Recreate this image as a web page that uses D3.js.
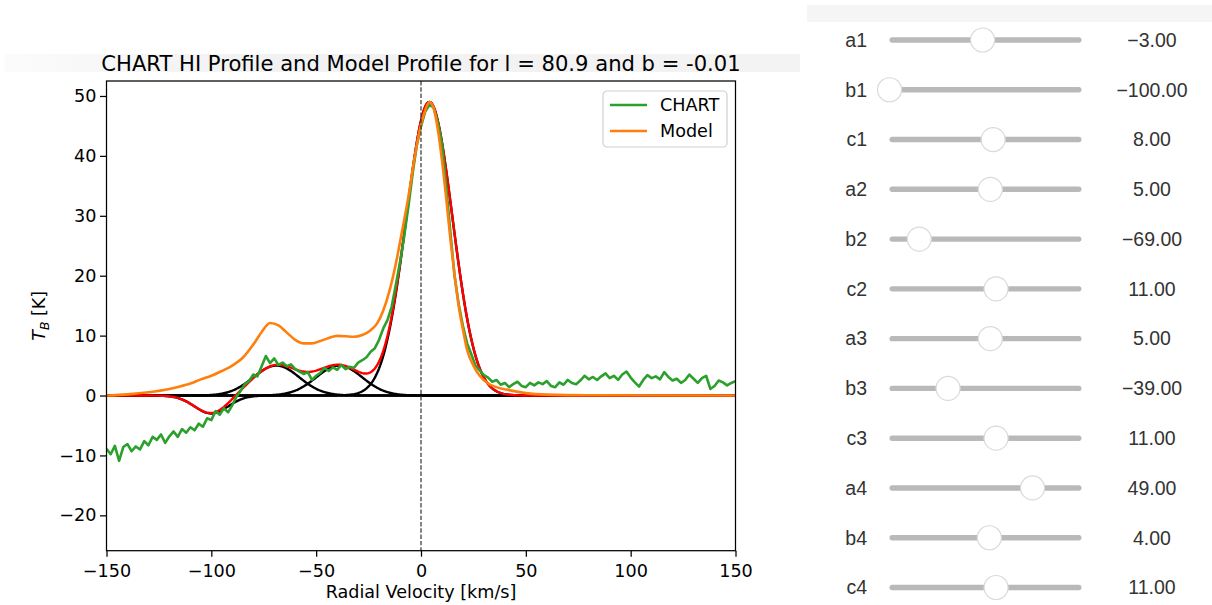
<!DOCTYPE html>
<html>
<head>
<meta charset="utf-8">
<script src="https://cdn.jsdelivr.net/npm/d3@7"></script>
<style>
  body { margin: 0; background: #fff; }
  svg { display: block; }
</style>
</head>
<body>
<svg id="chart" width="1212" height="605"></svg>
<script>
// Gaussian components from the sliders: a = amplitude, b = centre, c = width
const paramNames  = ["a1", "b1", "c1", "a2", "b2", "c2", "a3", "b3", "c3", "a4", "b4", "c4"];
const paramValues = [-3, -100, 8, 5, -69, 11, 5, -39, 11, 49, 4, 11];

// CHART HI profile, one value every 2 km/s from -150 to 150
const chartStart = -150;
const chartStep = 2;
const chartT = [
  -8.9, -9.8, -8.4, -10.9, -8.6, -8.1, -9.3, -8.5, -9.0, -7.6,
  -8.3, -6.9, -7.4, -6.5, -7.9, -6.8, -6.0, -6.9, -5.6, -6.2,
  -5.3, -5.8, -4.7, -5.2, -3.8, -4.1, -2.6, -3.2, -2.1, -2.8,
  -1.6, -0.2, 0.8, 1.9, 2.4, 3.5, 3.2, 4.9, 6.6, 5.4,
  6.2, 5.1, 5.5, 4.9, 5.2, 4.4, 4.0, 3.6, 3.9, 2.6,
  3.3, 3.8, 4.6, 4.1, 4.7, 4.3, 5.1, 4.4, 4.8, 4.6,
  5.5, 5.9, 6.4, 7.3, 7.9, 9.3, 11.2, 12.6, 14.8, 18.5,
  22.3, 26.6, 31.6, 37.0, 41.8, 44.9, 47.4, 48.5, 48.1, 45.6,
  42.0, 35.0, 27.3, 20.0, 15.2, 11.6, 8.7, 6.9, 5.0, 4.2,
  3.4, 3.0, 2.3, 2.6, 1.8, 2.1, 1.4, 1.9, 2.3, 1.6,
  1.4, 2.1, 1.7, 2.2, 1.9, 2.4, 1.6, 1.4, 2.2, 1.8,
  2.6, 2.1, 1.9, 2.5, 3.3, 2.7, 3.1, 2.6, 3.2, 3.7,
  2.9, 3.3, 2.6, 3.5, 4.0, 3.0, 2.2, 1.5, 2.6, 3.4,
  2.9, 3.2, 2.7, 3.9, 3.1, 2.5, 2.8, 2.1, 2.6, 3.5,
  2.8, 2.1, 2.9, 3.3, 1.1, 1.6, 2.5, 2.2, 1.7, 2.1,
  2.4
];

// model profile (smooth)
const modelV = [-150, -140, -130, -120, -115, -110, -105, -100, -95, -90,
  -85, -80, -76, -72, -68, -64, -60, -56, -52, -48,
  -44, -40, -36, -32, -28, -24, -21, -18, -15, -12,
  -9, -6, -3, 0, 2, 4, 6, 8, 10, 12,
  14, 16, 18, 20, 22, 25, 28, 32, 36, 42,
  50, 60, 80, 150];
const modelT = [0.0, 0.2, 0.55, 1.1, 1.5, 2.0, 2.7, 3.3, 4.1, 5.0,
  6.3, 8.5, 10.6, 12.1, 11.7, 10.5, 9.3, 8.7, 8.7, 9.1,
  9.6, 9.95, 9.9, 9.8, 10.1, 10.9, 12.0, 14.2, 17.5, 22.0,
  27.5, 33.2, 39.8, 45.2, 47.6, 49.0, 48.0, 44.5, 39.3, 33.0,
  26.2, 20.1, 14.9, 11.0, 7.6, 5.0, 3.3, 2.0, 1.4, 0.9,
  0.4, 0.15, 0.05, 0.0];

const xTicks = [-150, -100, -50, 0, 50, 100, 150];
const yTicks = [-20, -10, 0, 10, 20, 30, 40, 50];
const seriesNames = ["CHART", "Model"];
const seriesColors = ["#2ca02c", "#ff7f0e"];

const svg = d3.select("#chart");
const mplFont = "'DejaVu Sans', sans-serif";
const widgetFont = "'Liberation Sans', Arial, sans-serif";

// faint output-area bands
const defs = svg.append("defs");
const band = defs.append("linearGradient").attr("id", "band");
band.append("stop").attr("offset", "0").attr("stop-color", "#fbfbfb");
band.append("stop").attr("offset", "0.3").attr("stop-color", "#f2f2f2");
band.append("stop").attr("offset", "1").attr("stop-color", "#f3f3f3");
svg.append("rect").attr("x", 5).attr("y", 54).attr("width", 795).attr("height", 18).attr("fill", "url(#band)");
svg.append("rect").attr("x", 807).attr("y", 5).attr("width", 405).attr("height", 17).attr("fill", "#f5f5f5");

// plot area
const plot = { left: 106.5, right: 735.5, top: 81, bottom: 550.7 };
const x = d3.scaleLinear().domain([-150, 150]).range([plot.left, plot.right]);
const y = d3.scaleLinear().domain([-25.9, 52.5]).range([plot.bottom, plot.top]);

defs.append("clipPath").attr("id", "clip")
  .append("rect")
  .attr("x", plot.left).attr("y", plot.top)
  .attr("width", plot.right - plot.left).attr("height", plot.bottom - plot.top);

const g = svg.append("g").attr("clip-path", "url(#clip)");

// gaussians built from the slider values
const comps = d3.range(4).map(i => ({
  a: paramValues[i * 3], b: paramValues[i * 3 + 1], c: paramValues[i * 3 + 2]
}));
const vFine = d3.range(-150, 150.25, 0.5);
const gauss = (p, v) => p.a * Math.exp(-((v - p.b) ** 2) / (2 * p.c * p.c));

const line = d3.line().x(d => x(d[0])).y(d => y(d[1]));

comps.forEach(p => {
  g.append("path")
    .attr("d", line(vFine.map(v => [v, gauss(p, v)])))
    .attr("fill", "none").attr("stroke", "#000").attr("stroke-width", 2.4);
});

g.append("path")
  .attr("d", line(vFine.map(v => [v, d3.sum(comps, p => gauss(p, v))])))
  .attr("fill", "none").attr("stroke", "#ff0000").attr("stroke-width", 2.4);

// CHART data
const chartData = chartT.map((t, i) => [chartStart + i * chartStep, t]);
g.append("path")
  .attr("d", line(chartData))
  .attr("fill", "none").attr("stroke", seriesColors[0]).attr("stroke-width", 2.6)
  .attr("stroke-linejoin", "round");

// model
const modelData = modelV.map((v, i) => [v, modelT[i]]);
g.append("path")
  .attr("d", line.curve(d3.curveMonotoneX)(modelData))
  .attr("fill", "none").attr("stroke", seriesColors[1]).attr("stroke-width", 2.6);
line.curve(d3.curveLinear);

// v = 0 marker
svg.append("line")
  .attr("x1", x(0)).attr("x2", x(0))
  .attr("y1", plot.top).attr("y2", plot.bottom)
  .attr("stroke", "#333").attr("stroke-width", 1.2)
  .attr("stroke-dasharray", "4.4,1.9");

// axes
const xAxis = svg.append("g")
  .attr("transform", `translate(0,${plot.bottom})`)
  .call(d3.axisBottom(x).tickValues(xTicks).tickSize(6).tickPadding(7.5).tickFormat(d3.format("d")));
const yAxis = svg.append("g")
  .attr("transform", `translate(${plot.left},0)`)
  .call(d3.axisLeft(y).tickValues(yTicks).tickSize(6.5).tickPadding(3.5).tickFormat(d3.format("d")));

[xAxis, yAxis].forEach(ax => {
  ax.select(".domain").remove();
  ax.selectAll(".tick line").attr("stroke", "#000").attr("stroke-width", 1.25);
  ax.selectAll(".tick text").attr("fill", "#000")
    .style("font-family", mplFont).style("font-size", "17.6px");
});

svg.append("rect")
  .attr("x", plot.left).attr("y", plot.top)
  .attr("width", plot.right - plot.left).attr("height", plot.bottom - plot.top)
  .attr("fill", "none").attr("stroke", "#000").attr("stroke-width", 1.25);

// titles
svg.append("text")
  .attr("x", (plot.left + plot.right) / 2).attr("y", 71)
  .attr("text-anchor", "middle")
  .style("font-family", mplFont).style("font-size", "21.1px")
  .text("CHART HI Profile and Model Profile for l = 80.9 and b = -0.01");

svg.append("text")
  .attr("x", (plot.left + plot.right) / 2).attr("y", 598)
  .attr("text-anchor", "middle")
  .style("font-family", mplFont).style("font-size", "17.6px")
  .text("Radial Velocity [km/s]");

const yLab = svg.append("text")
  .attr("transform", `translate(45,${(plot.top + plot.bottom) / 2}) rotate(-90)`)
  .attr("text-anchor", "middle")
  .style("font-family", mplFont).style("font-size", "17.6px");
yLab.append("tspan").style("font-style", "italic").text("T");
yLab.append("tspan").attr("dy", 4).style("font-style", "italic").style("font-size", "12.3px").text("B");
yLab.append("tspan").attr("dy", -4).text(" [K]");

// legend
const legend = svg.append("g").attr("transform", "translate(603,91)");
legend.append("rect")
  .attr("width", 124).attr("height", 56).attr("rx", 4)
  .attr("fill", "#fff").attr("fill-opacity", 0.8)
  .attr("stroke", "#d0d0d0").attr("stroke-width", 1.2);
legend.selectAll("g.row")
  .data(seriesNames)
  .join("g")
  .attr("class", "row")
  .attr("transform", (d, i) => `translate(0,${14 + i * 26})`)
  .each(function(d, i) {
    const row = d3.select(this);
    row.append("line").attr("x1", 7).attr("x2", 44)
      .attr("stroke", seriesColors[i]).attr("stroke-width", 2.6);
    row.append("text").attr("x", 57).attr("dy", "0.36em")
      .style("font-family", mplFont).style("font-size", "17.6px")
      .text(d);
  });

// slider panel
const rowY = d3.scalePoint().domain(paramNames).range([40, 587.5]);
const sliderX = d3.scaleLinear().domain([-100, 100]).range([889.5, 1081.5]);
const fmt = d3.format(".2f");

const rows = svg.append("g").selectAll("g.slider")
  .data(paramNames)
  .join("g")
  .attr("class", "slider")
  .attr("transform", d => `translate(0,${rowY(d)})`);

rows.append("text")
  .attr("x", 867).attr("dy", "0.35em")
  .attr("text-anchor", "end")
  .attr("fill", "#333")
  .style("font-family", widgetFont).style("font-size", "19.5px")
  .text(d => d);

rows.append("rect")
  .attr("x", sliderX(-100)).attr("y", -2.7)
  .attr("width", sliderX(100) - sliderX(-100)).attr("height", 5.4).attr("rx", 2.7)
  .attr("fill", "#b9b9b9");

rows.append("circle")
  .attr("cx", (d, i) => sliderX(paramValues[i]))
  .attr("r", 12)
  .attr("fill", "#fff").attr("stroke", "#dadada").attr("stroke-width", 1.2);

rows.append("text")
  .attr("x", 1152).attr("dy", "0.35em")
  .attr("text-anchor", "middle")
  .attr("fill", "#333")
  .style("font-family", widgetFont).style("font-size", "19.5px")
  .text((d, i) => fmt(paramValues[i]));
</script>
</body>
</html>
